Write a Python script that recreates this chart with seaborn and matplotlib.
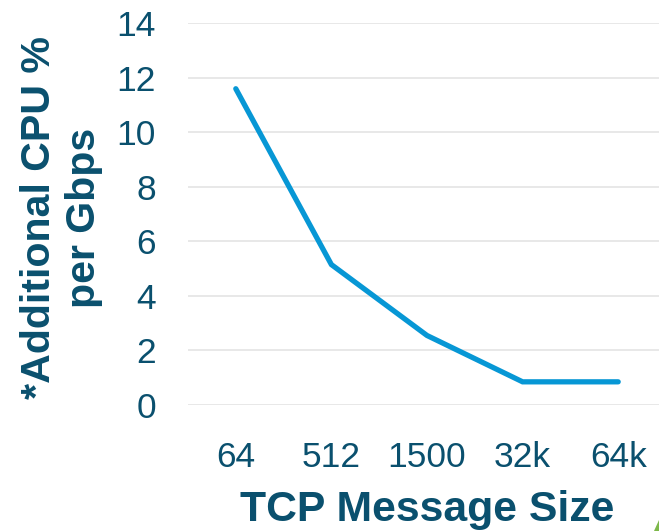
import numpy as np
import pandas as pd
import matplotlib
matplotlib.use('Agg')
import matplotlib.pyplot as plt
import seaborn as sns
from matplotlib.patches import Polygon

sizes = ['64', '512', '1500', '32k', '64k']
cpu = [11.6, 5.15, 2.55, 0.85, 0.85]
yticks = [0, 2, 4, 6, 8, 10, 12, 14]

text_col = '#0A506E'
line_col = '#0797D5'

sns.set_theme(style='white')
plt.rcParams['font.family'] = ['Liberation Sans', 'DejaVu Sans']

df = pd.DataFrame({'size': sizes, 'cpu': cpu})

fig = plt.figure(figsize=(6.59, 5.31), dpi=100)
# axes runs a bit past the right edge, as in the source slide
ax = fig.add_axes([188/659, 126/531, 478/659, 381.7/531])

sns.lineplot(data=df, x='size', y='cpu', ax=ax, sort=False,
             color=line_col, linewidth=3.8, solid_capstyle='round',
             solid_joinstyle='miter')

ax.set_xlim(-0.5, 4.5)
ax.set_ylim(0, 14)
ax.set_yticks(yticks)
ax.yaxis.grid(True, color='#E6E6E6', linewidth=1.3)
ax.set_axisbelow(True)
for s in ax.spines.values():
    s.set_visible(False)

ax.tick_params(axis='x', length=0, pad=26, labelsize=25.5, labelcolor=text_col)
ax.tick_params(axis='y', length=0, pad=23, labelsize=25.5, labelcolor=text_col)

ax.set_xlabel('TCP Message Size', fontsize=30.8, fontweight='bold', color=text_col)
ax.xaxis.set_label_coords(0.5, -0.223)
ax.set_ylabel('*Additional CPU %\nper Gbps', fontsize=29.6, fontweight='bold',
              color=text_col, linespacing=1.24, va='center', ha='center')
ax.yaxis.set_label_coords(-0.265, 0.49)

# little green corner decoration
fig.add_artist(Polygon([[654/659, 0], [659/659, 0], [659/659, 11/531]],
                       closed=True, transform=fig.transFigure,
                       facecolor='#7DB84A', edgecolor='none'))

fig.savefig('out.png', dpi=100)
